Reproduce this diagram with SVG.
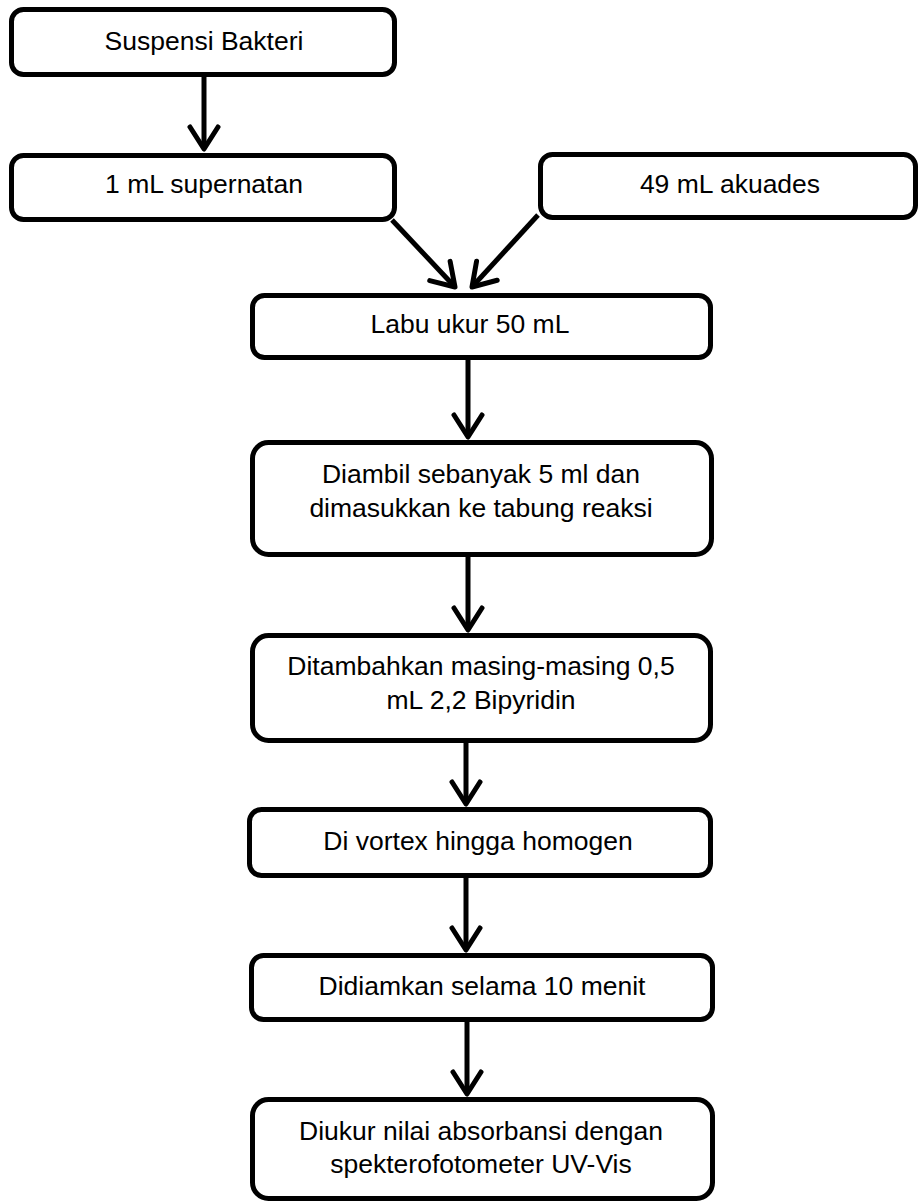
<svg xmlns="http://www.w3.org/2000/svg" width="918" height="1203" viewBox="0 0 918 1203">
<style>
.box{fill:#fff;stroke:#000;stroke-width:5}
.t{font-family:"Liberation Sans",Arial,sans-serif;font-size:26.5px;fill:#000;text-anchor:middle}
.c{stroke:#000;stroke-width:5;fill:none;marker-end:url(#ah)}
</style>
<defs>
<marker id="ah" markerUnits="userSpaceOnUse" markerWidth="40" markerHeight="40" viewBox="-30 -20 40 40" refX="0" refY="0" orient="auto">
<path d="M-22,-14 L0,0 L-22,14" fill="none" stroke="#000" stroke-width="5" stroke-linecap="round" stroke-linejoin="round"/>
</marker>
</defs>
<rect width="918" height="1203" fill="#fff"/>
<g id="connectors">
<line class="c" x1="204" y1="77" x2="204" y2="149"/>
<line class="c" x1="392" y1="220" x2="455" y2="287"/>
<line class="c" x1="538" y1="215" x2="472" y2="287"/>
<line class="c" x1="468" y1="360" x2="468" y2="437"/>
<line class="c" x1="468" y1="557" x2="468" y2="630"/>
<line class="c" x1="466" y1="743" x2="466" y2="804"/>
<line class="c" x1="466" y1="878" x2="466" y2="950"/>
<line class="c" x1="467" y1="1022" x2="467" y2="1094"/>
</g>
<g id="n1"><rect class="box" x="11.5" y="9.5" width="383" height="65" rx="12"/><text class="t" x="204" y="50">Suspensi Bakteri</text></g>
<g id="n2"><rect class="box" x="11.5" y="155.5" width="383" height="64" rx="12"/><text class="t" x="204" y="193">1 mL supernatan</text></g>
<g id="n3"><rect class="box" x="540.5" y="154.5" width="375" height="63" rx="12"/><text class="t" x="730" y="193">49 mL akuades</text></g>
<g id="n4"><rect class="box" x="252.5" y="295.5" width="458" height="62" rx="12"/><text class="t" x="470" y="333">Labu ukur 50 mL</text></g>
<g id="n5"><rect class="box" x="252.5" y="442.5" width="459" height="112" rx="16"/><text class="t" x="481" y="483">Diambil sebanyak 5 ml dan</text><text class="t" x="481" y="517">dimasukkan ke tabung reaksi</text></g>
<g id="n6"><rect class="box" x="252.5" y="635.5" width="458" height="105" rx="16"/><text class="t" x="481" y="675">Ditambahkan masing-masing 0,5</text><text class="t" x="481" y="709">mL 2,2 Bipyridin</text></g>
<g id="n7"><rect class="box" x="249.5" y="809.5" width="461" height="66" rx="12"/><text class="t" x="478" y="850">Di vortex hingga homogen</text></g>
<g id="n8"><rect class="box" x="251.5" y="955.5" width="461" height="64" rx="12"/><text class="t" x="482" y="995">Didiamkan selama 10 menit</text></g>
<g id="n9"><rect class="box" x="252.5" y="1099.5" width="460" height="99" rx="16"/><text class="t" x="481" y="1140">Diukur nilai absorbansi dengan</text><text class="t" x="481" y="1173">spekterofotometer UV-Vis</text></g>
</svg>
